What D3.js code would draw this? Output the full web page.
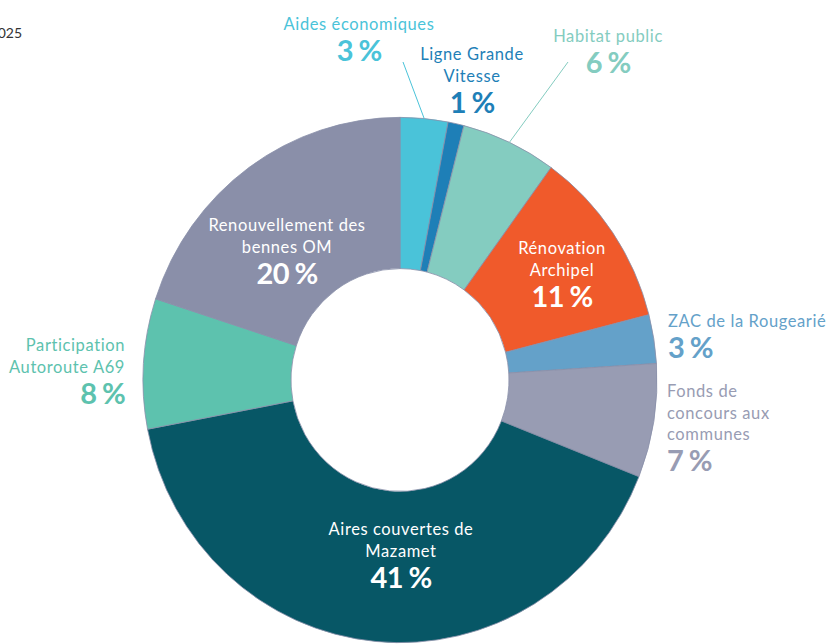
<!DOCTYPE html>
<html>
<head>
<meta charset="utf-8">
<script src="https://cdn.jsdelivr.net/npm/d3@7/dist/d3.min.js"></script>
<style>
  body { margin: 0; background: #fff; }
  text { font-family: Lato, "Noto Sans", sans-serif; }
</style>
</head>
<body>
<script>
// slices, clockwise from 12 o'clock
var categories = ["Aides économiques", "Ligne Grande Vitesse", "Habitat public", "Rénovation Archipel",
                  "ZAC de la Rougearié", "Fonds de concours aux communes", "Aires couvertes de Mazamet",
                  "Participation Autoroute A69", "Renouvellement des bennes OM"];
var shares = [3, 1, 6, 11, 3, 7, 41, 8, 20];
var pctLabels = ["3 %", "1 %", "6 %", "11 %", "3 %", "7 %", "41 %", "8 %", "20 %"];
var colors = ["#4ac3d9", "#1e7fb7", "#84ccc0", "#f05a2b", "#64a1c9", "#989cb3", "#075766", "#5dc2ae", "#8a8fa9"];

// label layout: lines of text, anchor, x, baseline of first line
var layout = [
  {lines: ["Aides économiques"], x: 359, y: 30, anchor: "middle", lead: [403, 62]},
  {lines: ["Ligne Grande", "Vitesse"], x: 472, y: 60, anchor: "middle"},
  {lines: ["Habitat public"], x: 608, y: 42, anchor: "middle", lead: [568, 62]},
  {lines: ["Rénovation", "Archipel"], x: 562, y: 254, anchor: "middle", inside: true},
  {lines: ["ZAC de la Rougearié"], x: 668, y: 327, anchor: "start"},
  {lines: ["Fonds de", "concours aux", "communes"], x: 667, y: 397, anchor: "start"},
  {lines: ["Aires couvertes de", "Mazamet"], x: 401, y: 535, anchor: "middle", inside: true},
  {lines: ["Participation", "Autoroute A69"], x: 125, y: 351, anchor: "end"},
  {lines: ["Renouvellement des", "bennes OM"], x: 287, y: 231, anchor: "middle", inside: true}
];

var W = 833, H = 644, cx = 400, cy = 380, rOut = 257, rIn = 109, sy = 1.022;

var svg = d3.select("body").append("svg")
    .attr("width", W).attr("height", H);

svg.append("text")
    .attr("x", 22).attr("y", 38)
    .attr("text-anchor", "end")
    .style("font-size", "14px").style("fill", "#333")
    .text("2025");

var pie = d3.pie().sort(null).value(function (d) { return d; });
var arc = d3.arc().innerRadius(rIn).outerRadius(rOut);
var arcs = pie(shares);

var g = svg.append("g").attr("transform", "translate(" + cx + "," + cy + ") scale(1," + sy + ")");

g.selectAll("path.slice")
  .data(arcs)
  .enter().append("path")
    .attr("class", "slice")
    .attr("d", arc)
    .attr("fill", function (d, i) { return colors[i]; })
    .attr("stroke", "#8a8fa9")
    .attr("stroke-width", 0.8);

// leader lines
arcs.forEach(function (a, i) {
  var l = layout[i];
  if (!l.lead) return;
  var mid = (a.startAngle + a.endAngle) / 2;
  svg.append("line")
    .attr("x1", cx + rOut * Math.sin(mid)).attr("y1", cy - rOut * sy * Math.cos(mid))
    .attr("x2", l.lead[0]).attr("y2", l.lead[1])
    .attr("stroke", colors[i]).attr("stroke-width", 1);
});

// labels
layout.forEach(function (l, i) {
  var col = l.inside ? "#fff" : colors[i];
  var t = svg.append("text")
      .attr("text-anchor", l.anchor)
      .style("fill", col)
      .style("letter-spacing", "0.6px");
  l.lines.forEach(function (s, k) {
    t.append("tspan").attr("x", l.x).attr("y", l.y + k * 21.5)
      .style("font-size", "16.5px").text(s);
  });
  svg.append("text")
    .attr("text-anchor", l.anchor)
    .attr("x", l.x).attr("y", l.y + (l.lines.length - 1) * 21.5 + 31)
    .style("fill", col)
    .style("font-size", "29px").style("font-weight", "700")
    .style("letter-spacing", "-0.8px").style("word-spacing", "-0.5px")
    .text(pctLabels[i]);
});
</script>
</body>
</html>
